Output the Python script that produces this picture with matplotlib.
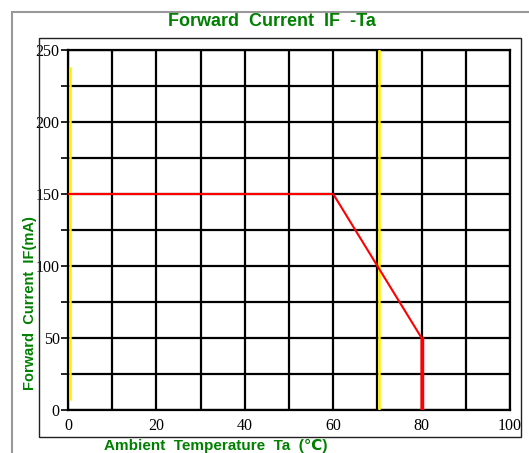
import matplotlib
matplotlib.use("Agg")
import matplotlib.pyplot as plt
from matplotlib.patches import Rectangle

temp = [0, 60, 70, 80, 80]
current = [150, 150, 100, 50, 0]
x_ticks = [0, 20, 40, 60, 80, 100]
y_ticks = [0, 50, 100, 150, 200, 250]
yellow_x = [0, 70]

W, H = 529, 453
fig = plt.figure(figsize=(W/100, H/100), dpi=100)
fig.patch.set_facecolor("white")

# outer frames
fig.add_artist(Rectangle((12/W, -0.1), 1.2, (H-12)/H + 0.1, transform=fig.transFigure,
                         fill=False, edgecolor="#999999", lw=1.5))
fig.add_artist(Rectangle((39/W, (H-437)/H), (521-39)/W, (437-38)/H, transform=fig.transFigure,
                         fill=False, edgecolor="#222222", lw=1.0))

ax = fig.add_axes([68/W, (H-410)/H, (510-68)/W, (410-50)/H])
ax.set_xlim(0, 100)
ax.set_ylim(0, 250)
ax.set_xticks(range(0, 101, 10))
ax.set_yticks(range(0, 251, 25))
ax.set_xticklabels([str(v) if v in x_ticks else "" for v in range(0, 101, 10)])
ax.set_yticklabels([str(v) if v in y_ticks else "" for v in range(0, 251, 25)])
ax.grid(True, color="black", lw=1.6)
ax.tick_params(axis="x", length=0, pad=6)
ax.tick_params(axis="y", length=5, width=1.2, pad=1)
for lab in ax.get_xticklabels() + ax.get_yticklabels():
    lab.set_fontfamily("Liberation Serif")
    lab.set_fontsize(11.5)
for s in ax.spines.values():
    s.set_linewidth(1.6)
ax.axvline(yellow_x[0] + 0.4, color="#ffee00", lw=1.8, ymin=0.03, ymax=0.95, zorder=3)
ax.axvline(yellow_x[1] + 0.3, color="#ffee00", lw=1.8, zorder=3)
ax.plot(temp, current, color="#ff0000", lw=1.5, zorder=4)
ax.plot(temp[-2:], current[-2:], color="#ff0000", lw=2.5, zorder=4)

green = "#008000"
fig.text(272/W, 1-22/H, "Forward  Current  IF  -Ta", color=green, fontsize=13,
         fontweight="bold", family=["Liberation Sans", "DejaVu Sans"], ha="center", va="center")
fig.text(30/W, 1-303/H, "Forward  Current  IF(mA)", color=green, fontsize=10.5,
         fontweight="bold", family=["Liberation Sans", "DejaVu Sans"], ha="center", va="center",
         rotation=90)
fig.text(216/W, 1-446/H, "Ambient  Temperature  Ta  (\u2103)", color=green, fontsize=11,
         fontweight="bold", family=["Liberation Sans", "DejaVu Sans"], ha="center", va="center")

fig.savefig("out.png", dpi=100)
